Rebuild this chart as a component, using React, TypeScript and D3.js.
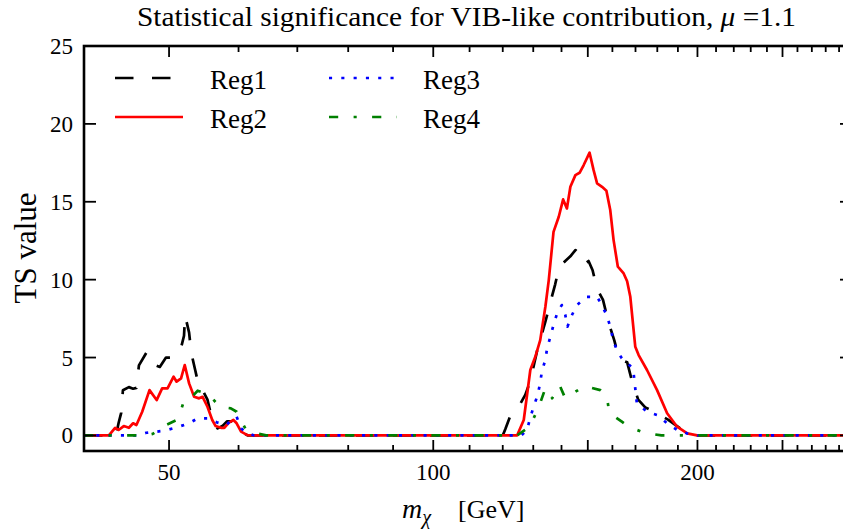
import React from "react";
import * as d3 from "d3";

type Pt = [number, number];

const reg1: Pt[] = [
  [40, 0], [43.5, 0], [43.8, 0.8], [44.1, 1.45], [44.3, 2.9], [45.0, 3.1], [45.5, 3.0], [45.9, 3.05],
  [46.2, 4.5], [47.1, 5.3], [47.8, 5.2], [48.3, 4.5], [48.8, 4.4], [49.6, 5.0], [50.5, 5.0], [51.5, 5.44],
  [52.0, 6.4], [52.15, 7.7], [52.7, 6.6], [53.0, 5.3], [53.5, 4.3], [54.1, 3.1], [54.6, 2.9], [55.3, 2.3],
  [56.0, 1.0], [56.8, 0.45], [57.5, 0.6], [58.2, 0.9], [59.0, 0.9], [59.7, 0.6], [60.5, 0.2], [61.5, 0],
  [115, 0], [116.5, 0.12], [118, 0.05], [120, 0], [120.8, 0.4], [122.3, 1.2], [125.0, 1.8], [127.3, 2.6],
  [129.0, 3.5], [131.4, 5.5], [134.2, 7.3], [135.9, 8.5], [137.7, 9.7], [139.1, 10.8], [141.4, 11.2],
  [143.3, 11.5], [145.2, 11.9], [147.1, 11.6], [148.7, 11.0], [150.3, 11.2], [151.9, 10.6], [153.7, 9.4],
  [156.1, 8.7], [158.3, 7.3], [160.8, 6.1], [162.5, 5.1], [164.6, 4.8], [166.3, 4.7], [168.6, 3.4],
  [171.2, 2.3], [174.4, 1.8], [178.8, 1.5], [185.3, 1.0], [191.7, 0.4], [197.2, 0], [300, 0],
];

const reg2: Pt[] = [
  [40, 0], [42.7, 0], [43.4, 0.49], [43.8, 0.35], [44.4, 0.6], [45.0, 0.49], [45.5, 0.78], [45.9, 0.67],
  [46.6, 1.52], [47.5, 2.91], [48.1, 2.48], [48.4, 2.27], [49.1, 3.02], [49.8, 3.02], [50.6, 3.77],
  [51.0, 3.45], [51.6, 3.66], [52.1, 4.52], [52.7, 3.34], [53.4, 2.48], [54.1, 2.38], [54.6, 2.48],
  [55.3, 1.84], [56.0, 0.99], [56.5, 0.6], [57.3, 0.49], [57.8, 0.49], [58.5, 0.82], [59.2, 0.99],
  [59.7, 0.78], [60.4, 0.24], [61.4, 0.02], [62.5, 0],
  [124.6, 0], [126.8, 0.99], [129.0, 4.2], [130.7, 5.05], [132.4, 6.12], [134.2, 8.26], [135.4, 9.97],
  [137.1, 13.07], [139.0, 14.04], [140.6, 15.15], [142.0, 14.57], [143.3, 15.96], [145.2, 16.71],
  [146.8, 16.86], [148.4, 17.36], [150.7, 18.15], [152.3, 17.03], [153.7, 16.18], [155.7, 15.96],
  [157.5, 15.71], [159.1, 14.47], [160.5, 12.54], [162.3, 10.83], [164.8, 10.4], [166.3, 9.9],
  [167.7, 8.9], [169.9, 5.69], [171.4, 5.16], [175.2, 4.2], [179.9, 2.91], [184.7, 1.42], [189.6, 0.56],
  [194.7, 0.13], [199.8, 0], [300, 0],
];

const reg3: Pt[] = [
  [40, 0], [46, 0], [47.1, 0.17], [49.4, 0.3], [51.3, 0.56], [52.7, 0.78], [53.9, 1.1], [55.3, 1.1],
  [56.8, 0.82], [58.1, 0.67], [59.2, 1.1], [59.7, 1.2], [60.4, 0.45], [61.4, 0.15], [62.5, 0],
  [126, 0], [127.9, 0.35], [129.0, 1.16], [130.2, 1.89], [131.5, 2.59], [132.4, 3.38], [133.0, 4.15],
  [134.2, 4.84], [134.8, 5.59], [135.9, 6.3], [137.1, 7.09], [138.4, 7.84], [140.1, 8.37], [141.4, 7.73],
  [142.2, 6.98], [143.9, 7.73], [145.8, 8.37], [149.4, 8.9], [153.7, 8.9], [155.5, 8.4], [157.6, 7.73],
  [159.1, 6.98], [160.2, 6.23], [161.8, 5.48], [164.0, 4.95], [168.9, 4.3], [169.5, 3.56], [170.6, 2.06],
  [175.2, 1.52], [179.9, 1.31], [184.7, 0.78], [189.6, 0.35], [194.7, 0.13], [200, 0], [300, 0],
];

const reg4: Pt[] = [
  [40, 0], [47, 0], [47.9, 0.1], [49.6, 0.67], [51.2, 1.03], [52.0, 2.23], [52.7, 2.3], [53.9, 2.87],
  [55.1, 2.7], [55.8, 2.48], [57.1, 1.84], [58.8, 1.74], [59.7, 1.52], [61.2, 0.35], [63.3, 0.1], [64.5, 0],
  [124.6, 0], [128.8, 0.56], [131.8, 1.78], [134.2, 3.02], [135.4, 2.91], [136.6, 2.38], [139.3, 3.23],
  [141.4, 2.38], [143.3, 2.59], [148.6, 3.17], [155.0, 2.91], [157.6, 2.59], [158.7, 1.46], [164.0, 0.88],
  [166.9, 0.56], [174.0, 0.17], [182.0, 0], [300, 0],
];

const seriesNames = ["Reg1", "Reg2", "Reg3", "Reg4"];
const xLabeledTicks = [50, 100, 200];
const xLongTicks = [50, 100, 150, 200, 250];
const xShortTicks = [60, 70, 80, 90, 110, 120, 130, 140, 160, 170, 180, 190, 210, 220, 230, 240, 260, 270, 280, 290];
const yTicks = [0, 5, 10, 15, 20, 25];

const W = 843;
const H = 530;
const L = 84, R = 852, T = 46, B = 451;
const FONT = "'Liberation Serif', 'DejaVu Serif', serif";

const styles = [
  { color: "#000000", dash: "18.5,18.5" },
  { color: "#ff0000", dash: "none" },
  { color: "#0000ff", dash: "3.1,9.2" },
  { color: "#008000", dash: "9.2,15.4,3.1,15.4" },
];

export default function App() {
  const x = d3.scaleLog().domain([40, 300]).range([L, R]);
  const y = d3.scaleLinear().domain([-1, 25]).range([B, T]);
  const line = d3.line<Pt>().x((d) => x(d[0])).y((d) => y(d[1]));
  const data = [reg1, reg2, reg3, reg4];
  const lw = 2.7;

  const legendItems = [
    { i: 0, lx: 115, ly: 78, tx: 210 },
    { i: 1, lx: 115, ly: 117, tx: 210 },
    { i: 2, lx: 329, ly: 78, tx: 423 },
    { i: 3, lx: 329, ly: 117, tx: 423 },
  ];

  return (
    <svg width={W} height={H} style={{ position: "absolute", left: 0, top: 0, background: "#fff" }}
      fontFamily={FONT}>
      <rect x={0} y={0} width={W} height={H} fill="#fff" />
      <defs>
        <clipPath id="plot">
          <rect x={L} y={T} width={R - L} height={B - T} />
        </clipPath>
      </defs>
      <g clipPath="url(#plot)">
        {data.map((d, i) => (
          <path key={i} d={line(d) || ""} fill="none" stroke={styles[i].color} strokeWidth={lw}
            strokeDasharray={styles[i].dash} strokeLinejoin="round" />
        ))}
      </g>
      <g stroke="#000" strokeWidth={1.8}>
        {xLongTicks.map((t) => (
          <g key={"xl" + t}>
            <line x1={x(t)} x2={x(t)} y1={B} y2={B - 11} />
            <line x1={x(t)} x2={x(t)} y1={T} y2={T + 11} />
          </g>
        ))}
        {xShortTicks.map((t) => (
          <g key={"xs" + t}>
            <line x1={x(t)} x2={x(t)} y1={B} y2={B - 6} />
            <line x1={x(t)} x2={x(t)} y1={T} y2={T + 6} />
          </g>
        ))}
        {yTicks.map((t) => (
          <g key={"y" + t}>
            <line x1={L} x2={L + 12} y1={y(t)} y2={y(t)} />
            <line x1={R} x2={R - 12} y1={y(t)} y2={y(t)} />
          </g>
        ))}
      </g>
      <rect x={L} y={T} width={R - L} height={B - T} fill="none" stroke="#000" strokeWidth={2.6} />
      {xLabeledTicks.map((t) => (
        <text key={"xt" + t} x={x(t)} y={480} fontSize={23} textAnchor="middle" fill="#000">{t}</text>
      ))}
      {yTicks.map((t) => (
        <text key={"yt" + t} x={73} y={y(t) + 8} fontSize={23} textAnchor="end" fill="#000">{t}</text>
      ))}
      <text x={137} y={26} fontSize={27} textLength={659} lengthAdjust="spacingAndGlyphs" fill="#000">
        Statistical significance for VIB-like contribution, <tspan fontStyle="italic">μ</tspan> =1.1
      </text>
      <text transform={`translate(36,248) rotate(-90)`} fontSize={31} textAnchor="middle" fill="#000">TS value</text>
      <text x={402} y={518} fontSize={28} fill="#000">
        <tspan fontStyle="italic">m</tspan>
        <tspan fontStyle="italic" fontSize={20} dy={6}>χ</tspan>
      </text>
      <text x={458} y={518} fontSize={26} fill="#000">[GeV]</text>
      {legendItems.map((it) => (
        <g key={"lg" + it.i}>
          <line x1={it.lx} x2={it.lx + 68} y1={it.ly} y2={it.ly} stroke={styles[it.i].color}
            strokeWidth={lw} strokeDasharray={styles[it.i].dash} />
          <text x={it.tx} y={it.ly + 11} fontSize={27} fill="#000">{seriesNames[it.i]}</text>
        </g>
      ))}
    </svg>
  );
}
